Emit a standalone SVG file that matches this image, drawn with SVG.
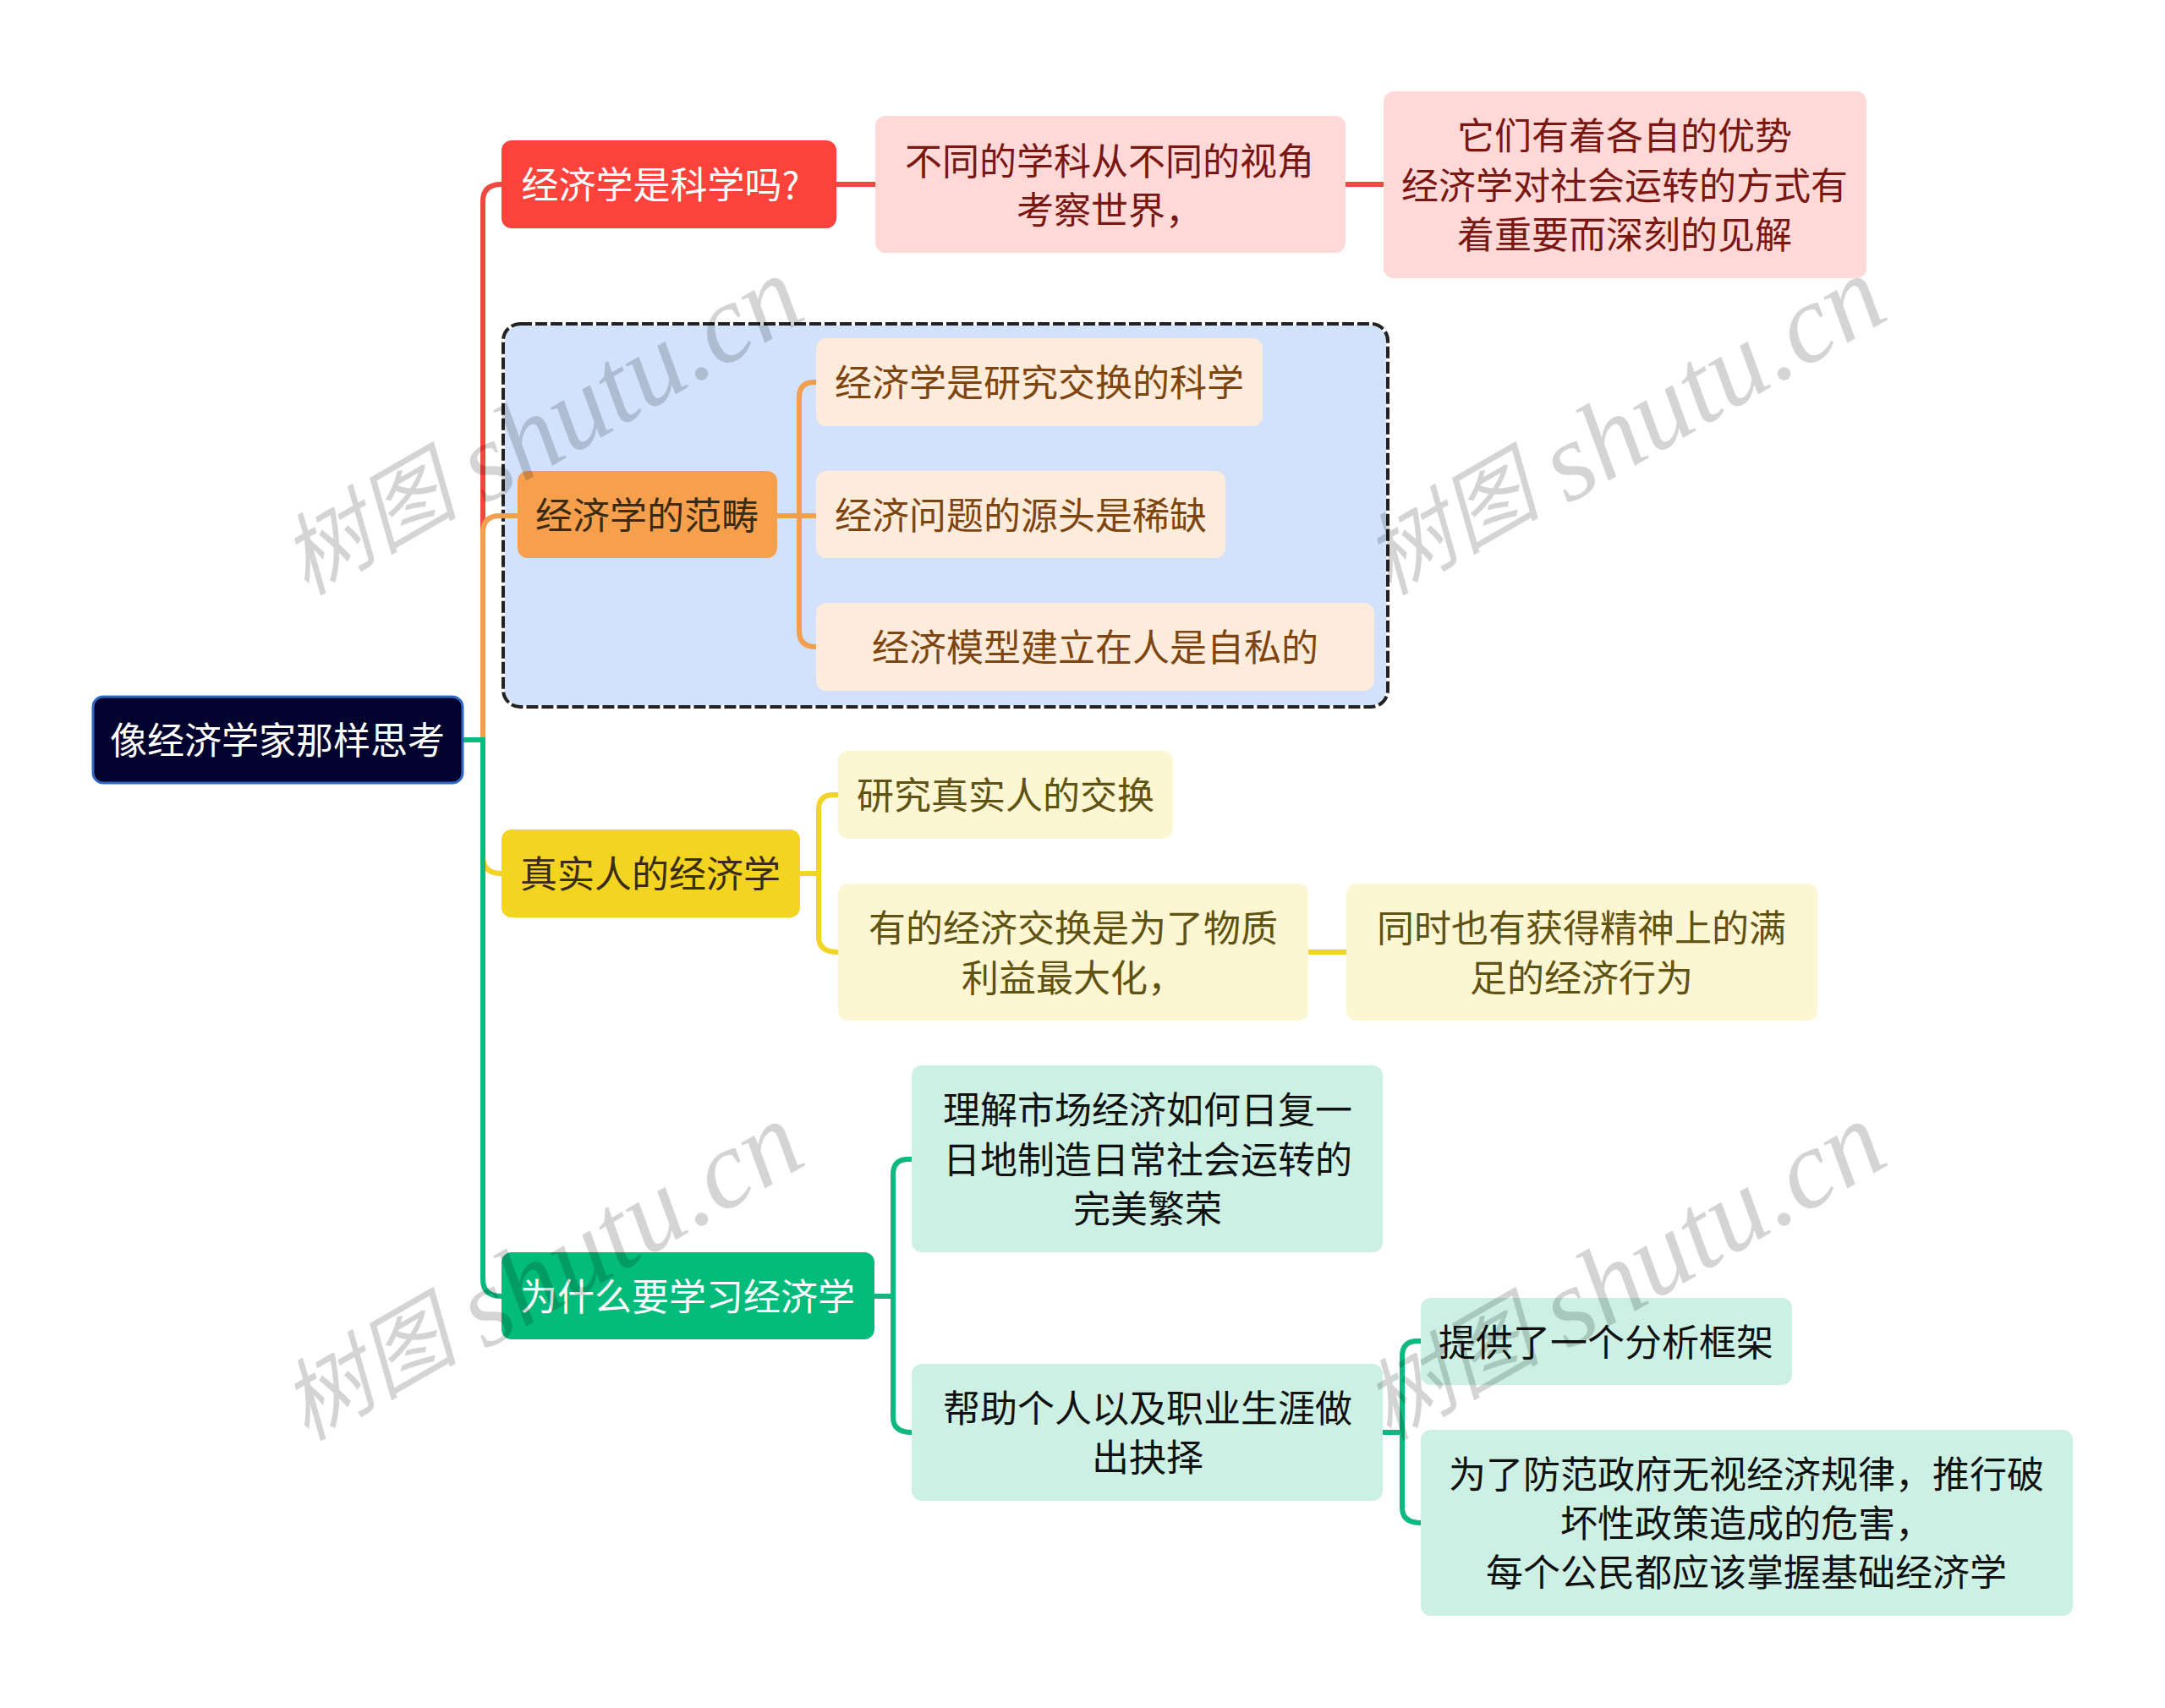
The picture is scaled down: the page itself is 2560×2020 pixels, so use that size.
<svg xmlns="http://www.w3.org/2000/svg" width="2560" height="2020" viewBox="0 0 2560 2020">
<style>
text{font-family:"Noto Sans CJK SC","Liberation Sans",sans-serif;font-size:44px;text-anchor:middle;font-weight:400}
.c{fill:none;stroke-width:6}
.r{stroke:#ef4840}.o{stroke:#f19e4f}.y{stroke:#f2d426}.g{stroke:#0fb87c}
.w{fill:#000;fill-opacity:.17;font-family:"Liberation Serif","Noto Sans CJK SC",serif;font-style:italic;font-size:105px;text-anchor:start}
.l{font-size:132px}
.tw{fill:#fff}.tr{fill:#7a1712}.to{fill:#7f4510}.ty{fill:#5f5213}.tg{fill:#111}.td{fill:#3a2b14}
</style>
<rect width="2560" height="2020" fill="#fff"/>
<g id="group-box"><rect x="595" y="383" width="1046" height="453" rx="20" fill="#d2e2fd" stroke="#fff" stroke-width="4"/><rect x="595" y="383" width="1046" height="453" rx="20" fill="none" stroke="#222" stroke-width="4" stroke-dasharray="14 4"/></g>
<g id="connectors">
<path class="c r" d="M571 875V238Q571 218 593 218"/>
<path class="c r" d="M989 218H1035M1590 218H1636"/>
<path class="c o" d="M571 875V630Q571 610 591 610H612"/>
<path class="c o" d="M919 610H965M965 452H963Q945 452 945 470V746Q945 765 965 765"/>
<path class="c y" d="M571 1013Q571 1033 593 1033"/>
<path class="c y" d="M945 1033H968M991 940H985Q968 940 968 958V1108Q968 1126 991 1126M1547 1126H1592"/>
<path class="c g" d="M547 875H571V1513Q571 1533 593 1533"/>
<path class="c g" d="M1034 1533H1056M1078 1371H1074Q1056 1371 1056 1389V1676Q1056 1694 1078 1694M1635 1694H1658M1680 1586H1676Q1658 1586 1658 1604V1783Q1658 1801 1680 1801"/>
</g>
<g id="root"><rect x="110" y="824" width="437" height="102" rx="12" fill="#02022e" stroke="#2f6ac0" stroke-width="3"/><text class="tw" x="328" y="892">像经济学家那样思考</text></g>
<g id="n-red"><rect x="593" y="166" width="396" height="104" rx="12" fill="#fb433b"/><text class="tw" x="781" y="235">经济学是科学吗?</text></g>
<g id="n-red-1"><rect x="1035" y="137" width="556" height="162" rx="12" fill="#fed9d8"/><text class="tr" x="1312" y="207">不同的学科从不同的视角</text><text class="tr" x="1312" y="265">考察世界&#xFF0C;</text></g>
<g id="n-red-2"><rect x="1636" y="108" width="571" height="221" rx="12" fill="#fed9d8"/><text class="tr" x="1921" y="177">它们有着各自的优势</text><text class="tr" x="1921" y="236">经济学对社会运转的方式有</text><text class="tr" x="1921" y="294">着重要而深刻的见解</text></g>
<g id="n-orange"><rect x="612" y="557" width="307" height="103" rx="12" fill="#f6a04d"/><text class="td" x="765" y="626">经济学的范畴</text></g>
<g id="n-orange-1"><rect x="965" y="400" width="528" height="104" rx="12" fill="#fdecdb"/><text class="to" x="1229" y="469">经济学是研究交换的科学</text></g>
<g id="n-orange-2"><rect x="965" y="557" width="484" height="103" rx="12" fill="#fdecdb"/><text class="to" x="1207" y="626">经济问题的源头是稀缺</text></g>
<g id="n-orange-3"><rect x="965" y="713" width="660" height="104" rx="12" fill="#fdecdb"/><text class="to" x="1295" y="782">经济模型建立在人是自私的</text></g>
<g id="n-yellow"><rect x="593" y="981" width="353" height="104" rx="12" fill="#f3d421"/><text class="td" x="769" y="1050">真实人的经济学</text></g>
<g id="n-yellow-1"><rect x="991" y="888" width="396" height="104" rx="12" fill="#fcf6d2"/><text class="ty" x="1189" y="957">研究真实人的交换</text></g>
<g id="n-yellow-2"><rect x="991" y="1045" width="556" height="162" rx="12" fill="#fcf6d2"/><text class="ty" x="1269" y="1114">有的经济交换是为了物质</text><text class="ty" x="1269" y="1173">利益最大化&#xFF0C;</text></g>
<g id="n-yellow-3"><rect x="1592" y="1045" width="557" height="162" rx="12" fill="#fcf6d2"/><text class="ty" x="1870" y="1114">同时也有获得精神上的满</text><text class="ty" x="1870" y="1173">足的经济行为</text></g>
<g id="n-green"><rect x="593" y="1481" width="441" height="103" rx="12" fill="#03bb7b"/><text class="tw" x="813" y="1550">为什么要学习经济学</text></g>
<g id="n-green-1"><rect x="1078" y="1260" width="557" height="221" rx="12" fill="#ccf1e4"/><text class="tg" x="1357" y="1329">理解市场经济如何日复一</text><text class="tg" x="1357" y="1388">日地制造日常社会运转的</text><text class="tg" x="1357" y="1446">完美繁荣</text></g>
<g id="n-green-2"><rect x="1078" y="1613" width="557" height="162" rx="12" fill="#ccf1e4"/><text class="tg" x="1357" y="1682">帮助个人以及职业生涯做</text><text class="tg" x="1357" y="1740">出抉择</text></g>
<g id="n-green-3"><rect x="1680" y="1535" width="439" height="103" rx="12" fill="#ccf1e4"/><text class="tg" x="1899" y="1604">提供了一个分析框架</text></g>
<g id="n-green-4"><rect x="1680" y="1691" width="771" height="220" rx="12" fill="#ccf1e4"/><text class="tg" x="2065" y="1760">为了防范政府无视经济规律&#xFF0C;推行破</text><text class="tg" x="2065" y="1818">坏性政策造成的危害&#xFF0C;</text><text class="tg" x="2065" y="1876">每个公民都应该掌握基础经济学</text></g>
<g id="watermarks">
<text class="w" transform="translate(362 705) rotate(-30)">树图<tspan class="l" x="237" dy="12">shutu.cn</tspan></text>
<text class="w" transform="translate(1642 705) rotate(-30)">树图<tspan class="l" x="237" dy="12">shutu.cn</tspan></text>
<text class="w" transform="translate(362 1705) rotate(-30)">树图<tspan class="l" x="237" dy="12">shutu.cn</tspan></text>
<text class="w" transform="translate(1642 1705) rotate(-30)">树图<tspan class="l" x="237" dy="12">shutu.cn</tspan></text>
</g>
</svg>
